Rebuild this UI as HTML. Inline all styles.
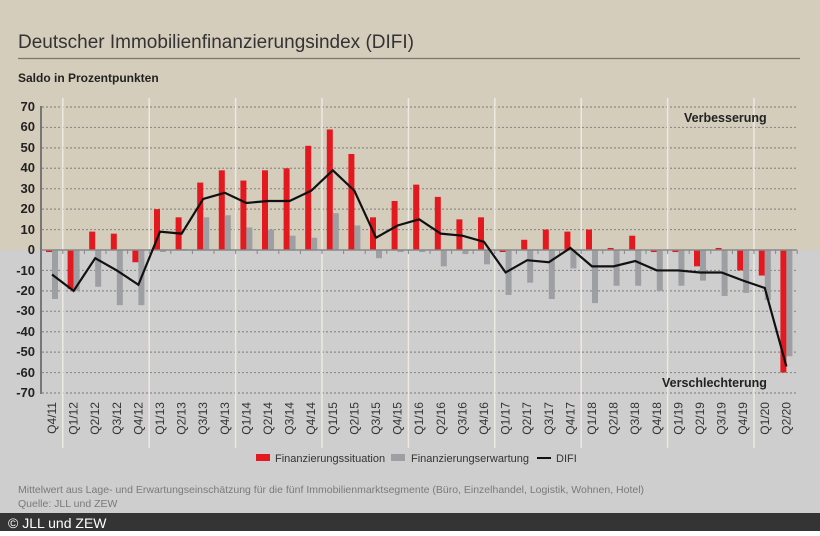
<!DOCTYPE html>
<html><head><meta charset="utf-8"><style>
body{margin:0;width:820px;height:531px;overflow:hidden;font-family:"Liberation Sans",sans-serif}
</style></head><body>
<svg id="s" width="820" height="531" viewBox="0 0 820 531" xmlns="http://www.w3.org/2000/svg" font-family="Liberation Sans, sans-serif">
<rect x="0" y="0" width="820" height="250" fill="#d5cdbc"/>
<rect x="0" y="250" width="820" height="263" fill="#cdcecd"/>
<rect x="0" y="513" width="820" height="18" fill="#333433"/>
<text x="18" y="48" font-size="19" fill="#333">Deutscher Immobilienfinanzierungsindex (DIFI)</text>
<line x1="18" y1="58.5" x2="800" y2="58.5" stroke="#7a766c" stroke-width="1.2"/>
<text x="18" y="82" font-size="12" font-weight="bold" fill="#222">Saldo in Prozentpunkten</text>
<g id="grid"></g>
<g font-size="13" font-weight="bold" fill="#222" text-anchor="end">
<text x="35" y="111">70</text><text x="35" y="131">60</text><text x="35" y="152">50</text><text x="35" y="172">40</text><text x="35" y="193">30</text><text x="35" y="213">20</text><text x="35" y="234">10</text><text x="35" y="254">0</text><text x="35" y="275">-10</text><text x="35" y="295">-20</text><text x="35" y="315">-30</text><text x="35" y="336">-40</text><text x="35" y="356">-50</text><text x="35" y="377">-60</text><text x="35" y="397">-70</text>
</g>
<g id="bars"></g>
<line x1="41" y1="106" x2="41" y2="394" stroke="#777" stroke-width="2"/>
<text x="684" y="122" font-size="12.5" font-weight="bold" fill="#222">Verbesserung</text>
<text x="662" y="387" font-size="12.5" font-weight="bold" fill="#222">Verschlechterung</text>
<g font-size="12" fill="#333" text-anchor="end" id="xl">
<text transform="translate(56,402) rotate(-90)">Q4/11</text>
<text transform="translate(77.6,402) rotate(-90)">Q1/12</text>
<text transform="translate(99.2,402) rotate(-90)">Q2/12</text>
<text transform="translate(120.8,402) rotate(-90)">Q3/12</text>
<text transform="translate(142.4,402) rotate(-90)">Q4/12</text>
<text transform="translate(164,402) rotate(-90)">Q1/13</text>
<text transform="translate(185.6,402) rotate(-90)">Q2/13</text>
<text transform="translate(207.2,402) rotate(-90)">Q3/13</text>
<text transform="translate(228.8,402) rotate(-90)">Q4/13</text>
<text transform="translate(250.4,402) rotate(-90)">Q1/14</text>
<text transform="translate(272,402) rotate(-90)">Q2/14</text>
<text transform="translate(293.6,402) rotate(-90)">Q3/14</text>
<text transform="translate(315.2,402) rotate(-90)">Q4/14</text>
<text transform="translate(336.8,402) rotate(-90)">Q1/15</text>
<text transform="translate(358.4,402) rotate(-90)">Q2/15</text>
<text transform="translate(380,402) rotate(-90)">Q3/15</text>
<text transform="translate(401.6,402) rotate(-90)">Q4/15</text>
<text transform="translate(423.2,402) rotate(-90)">Q1/16</text>
<text transform="translate(444.8,402) rotate(-90)">Q2/16</text>
<text transform="translate(466.4,402) rotate(-90)">Q3/16</text>
<text transform="translate(488,402) rotate(-90)">Q4/16</text>
<text transform="translate(509.6,402) rotate(-90)">Q1/17</text>
<text transform="translate(531.2,402) rotate(-90)">Q2/17</text>
<text transform="translate(552.8,402) rotate(-90)">Q3/17</text>
<text transform="translate(574.4,402) rotate(-90)">Q4/17</text>
<text transform="translate(596,402) rotate(-90)">Q1/18</text>
<text transform="translate(617.6,402) rotate(-90)">Q2/18</text>
<text transform="translate(639.2,402) rotate(-90)">Q3/18</text>
<text transform="translate(660.8,402) rotate(-90)">Q4/18</text>
<text transform="translate(682.4,402) rotate(-90)">Q1/19</text>
<text transform="translate(704,402) rotate(-90)">Q2/19</text>
<text transform="translate(725.6,402) rotate(-90)">Q3/19</text>
<text transform="translate(747.2,402) rotate(-90)">Q4/19</text>
<text transform="translate(768.8,402) rotate(-90)">Q1/20</text>
<text transform="translate(790.4,402) rotate(-90)">Q2/20</text>
</g>
<rect x="256" y="454" width="14" height="7" fill="#e3191f"/>
<text x="275" y="462" font-size="11" fill="#333">Finanzierungssituation</text>
<rect x="391" y="454" width="14" height="7" fill="#9d9fa2"/>
<text x="411" y="462" font-size="11" fill="#333">Finanzierungserwartung</text>
<line x1="537" y1="458" x2="551" y2="458" stroke="#111" stroke-width="2"/>
<text x="556" y="462" font-size="11" fill="#333">DIFI</text>
<text x="18" y="493" font-size="10.5" fill="#7a7a7a">Mittelwert aus Lage- und Erwartungseinschätzung für die fünf Immobilienmarktsegmente (Büro, Einzelhandel, Logistik, Wohnen, Hotel)</text>
<text x="18" y="507" font-size="10.5" fill="#7a7a7a">Quelle: JLL und ZEW</text>
<text x="8" y="528" font-size="14" fill="#fff">© JLL und ZEW</text>
</svg>
<script>
var NS="http://www.w3.org/2000/svg",k=2.043;
function el(p,t,a){var e=document.createElementNS(NS,t);for(var n in a)e.setAttribute(n,a[n]);p.appendChild(e);return e;}
var g=document.getElementById("grid"),b=document.getElementById("bars");
for(var v=-70;v<=70;v+=10){if(v==0)continue;var y=250-k*v;el(g,"line",{x1:42,x2:797,y1:y,y2:y,stroke:"#8d8c86","stroke-width":1.2,"stroke-dasharray":"2,2"});}
for(var i=0;i<9;i++){var x=52+21.6*(4*i+0.5);el(g,"line",{x1:x,x2:x,y1:98,y2:448,stroke:"#ece9e2","stroke-width":1.5});}
var R=[-1,-19,9,8,-6,20,16,33,39,34,39,40,51,59,47,16,24,32,26,15,16,-1,5,10,9,10,1,7,-1,-1,-8,1,-10,-12.5,-60];
var G=[-24,-20,-18,-27,-27,-1,0.5,16,17,11,10,7,6,18,12,-4,-1,-1,-8,-2,-7,-22,-16,-24,-9,-26,-17.5,-17.5,-20,-17.5,-15,-22.5,-21,-24.5,-52];
var D=[-12,-20,-4,-10,-17,9,8,25,28,23,24,24,29,39,29,6,12,15,8,7,4,-11,-5,-6,1,-8,-8,-5.4,-10,-10,-11,-11,-15,-18.6,-57];
for(var i=0;i<35;i++){var c=52+21.6*i;
function bar(x,v,f){var h=Math.abs(k*v);el(b,"rect",{x:x,y:v>0?250-h:250,width:6,height:Math.max(h,0.5),fill:f});}
bar(c-6,R[i],"#e3191f");bar(c,G[i],"#9d9fa2");
el(b,"line",{x1:c+10.8,x2:c+10.8,y1:250,y2:254,stroke:"#888","stroke-width":1});}
el(b,"line",{x1:41,x2:797,y1:250,y2:250,stroke:"#888","stroke-width":1.5});
var p="";for(var i=0;i<35;i++){p+=(i?"L":"M")+(52+21.6*i)+","+(250-k*D[i]);}
el(b,"path",{d:p,fill:"none",stroke:"#111","stroke-width":2.2,"stroke-linejoin":"miter"});
</script>
</body></html>
